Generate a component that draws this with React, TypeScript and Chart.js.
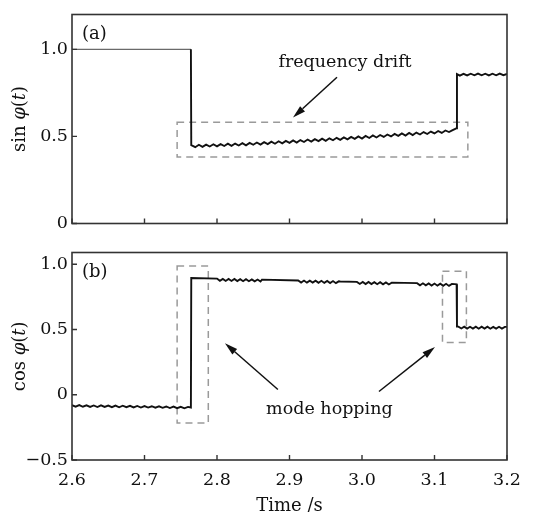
import { useEffect, useRef } from "react";
import { Chart, registerables } from "chart.js";

Chart.register(...registerables);

// ---------- axis ticks ----------
const xTicks = [2.6, 2.7, 2.8, 2.9, 3.0, 3.1, 3.2];
const xTickLabels = ["2.6", "2.7", "2.8", "2.9", "3.0", "3.1", "3.2"];
const sinTicks = [0, 0.5, 1.0];
const sinTickLabels = ["0", "0.5", "1.0"];
const cosTicks = [-0.5, 0, 0.5, 1.0];
const cosTickLabels = ["\u22120.5", "0", "0.5", "1.0"];

// ---------- series: sin φ(t) ----------
const sinTime = [
  2.600, 2.764,
  2.7645, 2.770, 2.775, 2.780, 2.785, 2.790, 2.795, 2.800, 2.805, 2.810,
  2.815, 2.820, 2.825, 2.830, 2.835, 2.840, 2.845, 2.850, 2.855, 2.860,
  2.865, 2.870, 2.875, 2.880, 2.885, 2.890, 2.895, 2.900, 2.905, 2.910,
  2.915, 2.920, 2.925, 2.930, 2.935, 2.940, 2.945, 2.950, 2.955, 2.960,
  2.965, 2.970, 2.975, 2.980, 2.985, 2.990, 2.995, 3.000, 3.005, 3.010,
  3.015, 3.020, 3.025, 3.030, 3.035, 3.040, 3.045, 3.050, 3.055, 3.060,
  3.065, 3.070, 3.075, 3.080, 3.085, 3.090, 3.095, 3.100, 3.105, 3.110,
  3.115, 3.120, 3.125, 3.128, 3.1305,
  3.131, 3.135, 3.140, 3.145, 3.150, 3.155, 3.160, 3.165, 3.170, 3.175,
  3.180, 3.185, 3.190, 3.195, 3.200,
];
const sinValue = [
  1.000, 1.000,
  0.450, 0.438, 0.452, 0.440, 0.453, 0.442, 0.455, 0.443, 0.456, 0.445,
  0.458, 0.446, 0.459, 0.448, 0.461, 0.449, 0.463, 0.452, 0.465, 0.453,
  0.467, 0.456, 0.470, 0.458, 0.472, 0.460, 0.474, 0.463, 0.477, 0.465,
  0.479, 0.468, 0.482, 0.470, 0.484, 0.473, 0.487, 0.475, 0.489, 0.478,
  0.492, 0.480, 0.494, 0.483, 0.497, 0.486, 0.500, 0.488, 0.503, 0.491,
  0.506, 0.494, 0.508, 0.497, 0.511, 0.500, 0.514, 0.503, 0.517, 0.505,
  0.520, 0.508, 0.522, 0.511, 0.525, 0.514, 0.528, 0.517, 0.531, 0.520,
  0.534, 0.525, 0.536, 0.542, 0.547,
  0.858, 0.849, 0.859, 0.850, 0.860, 0.851, 0.861, 0.851, 0.860, 0.850,
  0.860, 0.851, 0.861, 0.852, 0.859,
];

// ---------- series: cos φ(t) ----------
const cosTime = [
  2.600, 2.605, 2.610, 2.615, 2.620, 2.625, 2.630, 2.635, 2.640, 2.645,
  2.650, 2.655, 2.660, 2.665, 2.670, 2.675, 2.680, 2.685, 2.690, 2.695,
  2.700, 2.705, 2.710, 2.715, 2.720, 2.725, 2.730, 2.735, 2.740, 2.745,
  2.750, 2.755, 2.760, 2.764,
  2.7645, 2.800,
  2.804, 2.808, 2.812, 2.816, 2.820, 2.824, 2.828, 2.832, 2.836, 2.840,
  2.844, 2.848, 2.852, 2.856, 2.860, 2.862,
  2.912,
  2.916, 2.920, 2.924, 2.928, 2.932, 2.936, 2.940, 2.944, 2.948, 2.952,
  2.956, 2.960, 2.964, 2.968, 2.970,
  2.993,
  2.997, 3.001, 3.005, 3.009, 3.013, 3.017, 3.021, 3.025, 3.029, 3.033,
  3.037, 3.041,
  3.076,
  3.080, 3.084, 3.088, 3.092, 3.096, 3.100, 3.104, 3.108, 3.112, 3.116,
  3.120, 3.124, 3.128, 3.1305,
  3.131,
  3.133, 3.137, 3.141, 3.145, 3.149, 3.153, 3.157, 3.161, 3.165, 3.169,
  3.173, 3.177, 3.181, 3.185, 3.189, 3.193, 3.197, 3.200,
];
const cosValue = [
  -0.080, -0.091, -0.079, -0.092, -0.081, -0.093, -0.082, -0.094, -0.081, -0.093,
  -0.083, -0.095, -0.083, -0.096, -0.084, -0.095, -0.085, -0.097, -0.086, -0.098,
  -0.087, -0.098, -0.088, -0.099, -0.089, -0.100, -0.090, -0.102, -0.091, -0.103,
  -0.092, -0.104, -0.093, -0.098,
  0.895, 0.890,
  0.873, 0.888, 0.872, 0.887, 0.872, 0.887, 0.871, 0.886, 0.870, 0.885,
  0.870, 0.884, 0.869, 0.883, 0.868, 0.882,
  0.876,
  0.860, 0.875, 0.859, 0.874, 0.859, 0.874, 0.858, 0.873, 0.857, 0.872,
  0.856, 0.871, 0.855, 0.869, 0.868,
  0.865,
  0.849, 0.864, 0.848, 0.864, 0.848, 0.863, 0.847, 0.862, 0.846, 0.861,
  0.845, 0.859,
  0.855,
  0.839, 0.854, 0.838, 0.853, 0.837, 0.852, 0.836, 0.851, 0.835, 0.850,
  0.834, 0.849, 0.848, 0.846,
  0.522,
  0.522, 0.508, 0.522, 0.507, 0.521, 0.507, 0.521, 0.506, 0.521, 0.507,
  0.521, 0.506, 0.520, 0.507, 0.521, 0.507, 0.520, 0.520,
];

// ---------- annotations (data coordinates) ----------
const sinBoxes = [{ x0: 2.745, x1: 3.146, y0: 0.382, y1: 0.581 }];
const sinArrows = [{ x0: 2.9655, y0: 0.84, x1: 2.9048, y1: 0.608 }];
const sinNotes = [{ text: "frequency drift", x: 2.9766, y: 0.926 }];

const cosBoxes = [
  { x0: 2.745, x1: 2.788, y0: -0.217, y1: 0.986 },
  { x0: 3.111, x1: 3.144, y0: 0.4, y1: 0.947 },
];
const cosArrows = [
  { x0: 2.884, y0: 0.04, x1: 2.811, y1: 0.395 },
  { x0: 3.0234, y0: 0.025, x1: 3.1007, y1: 0.365 },
];
const cosNotes = [{ text: "mode hopping", x: 2.955, y: -0.11 }];

const FONT = "'DejaVu Serif', 'Liberation Serif', serif";
const INK = "#111";

type Part = { text: string; italic: boolean };

function drawYTitle(ctx: CanvasRenderingContext2D, parts: Part[], x: number, yc: number) {
  ctx.save();
  ctx.translate(x, yc);
  ctx.rotate(-Math.PI / 2);
  let total = 0;
  const widths = parts.map((p) => {
    ctx.font = `${p.italic ? "italic " : ""}18px ${FONT}`;
    const w = ctx.measureText(p.text).width;
    total += w;
    return w;
  });
  let cx = -total / 2;
  ctx.textBaseline = "middle";
  ctx.textAlign = "left";
  ctx.fillStyle = INK;
  parts.forEach((p, i) => {
    ctx.font = `${p.italic ? "italic " : ""}18px ${FONT}`;
    ctx.fillText(p.text, cx, 0);
    cx += widths[i];
  });
  ctx.restore();
}

function makePanelPlugin(cfg: {
  boxes: { x0: number; x1: number; y0: number; y1: number }[];
  arrows: { x0: number; y0: number; x1: number; y1: number }[];
  notes: { text: string; x: number; y: number }[];
  tag: string;
  title: Part[];
}) {
  return {
    id: "panelDecor",
    beforeDatasetsDraw(chart: any) {
      const { ctx, scales } = chart;
      const xs = scales.x;
      const ys = scales.y;
      ctx.save();
      ctx.strokeStyle = "#9a9a9a";
      ctx.lineWidth = 1.5;
      ctx.setLineDash([7, 5]);
      cfg.boxes.forEach((b) => {
        const l = xs.getPixelForValue(b.x0);
        const r = xs.getPixelForValue(b.x1);
        const t = ys.getPixelForValue(b.y1);
        const bt = ys.getPixelForValue(b.y0);
        ctx.strokeRect(l, t, r - l, bt - t);
      });
      ctx.restore();
    },
    afterDraw(chart: any) {
      const { ctx, scales, chartArea } = chart;
      const xs = scales.x;
      const ys = scales.y;
      ctx.save();
      // frame
      ctx.strokeStyle = "#333";
      ctx.lineWidth = 1.6;
      ctx.strokeRect(chartArea.left, chartArea.top, chartArea.right - chartArea.left, chartArea.bottom - chartArea.top);
      // inward ticks
      ctx.lineWidth = 1.4;
      ctx.beginPath();
      xTicks.forEach((v) => {
        const px = xs.getPixelForValue(v);
        ctx.moveTo(px, chartArea.bottom);
        ctx.lineTo(px, chartArea.bottom - 5);
      });
      ys.ticks.forEach((t: any) => {
        const py = ys.getPixelForValue(t.value);
        ctx.moveTo(chartArea.left, py);
        ctx.lineTo(chartArea.left + 5, py);
      });
      ctx.stroke();
      // arrows
      ctx.strokeStyle = "#111";
      ctx.fillStyle = "#111";
      ctx.lineWidth = 1.5;
      cfg.arrows.forEach((a) => {
        const x0 = xs.getPixelForValue(a.x0);
        const y0 = ys.getPixelForValue(a.y0);
        const x1 = xs.getPixelForValue(a.x1);
        const y1 = ys.getPixelForValue(a.y1);
        const ang = Math.atan2(y1 - y0, x1 - x0);
        const hl = 13;
        const hw = 3.6;
        const bx = x1 - hl * Math.cos(ang);
        const by = y1 - hl * Math.sin(ang);
        ctx.beginPath();
        ctx.moveTo(x0, y0);
        ctx.lineTo(bx, by);
        ctx.stroke();
        ctx.beginPath();
        ctx.moveTo(x1, y1);
        ctx.lineTo(bx + hw * Math.sin(ang), by - hw * Math.cos(ang));
        ctx.lineTo(bx - hw * Math.sin(ang), by + hw * Math.cos(ang));
        ctx.closePath();
        ctx.fill();
      });
      // notes
      ctx.fillStyle = INK;
      ctx.font = `17.5px ${FONT}`;
      ctx.textAlign = "center";
      ctx.textBaseline = "middle";
      cfg.notes.forEach((n) => {
        ctx.fillText(n.text, xs.getPixelForValue(n.x), ys.getPixelForValue(n.y));
      });
      // panel tag
      ctx.font = `18px ${FONT}`;
      ctx.textAlign = "left";
      ctx.fillText(cfg.tag, chartArea.left + 10, chartArea.top + 20);
      ctx.restore();
      // y title
      drawYTitle(ctx, cfg.title, 20, (chartArea.top + chartArea.bottom) / 2);
    },
  };
}

function labelFor(ticks: number[], labels: string[]) {
  return (value: any) => {
    const i = ticks.findIndex((t) => Math.abs(t - Number(value)) < 1e-9);
    return i >= 0 ? labels[i] : "";
  };
}

function buildConfig(opts: {
  time: number[];
  values: number[];
  yMin: number;
  yMax: number;
  yTicks: number[];
  yLabels: string[];
  showX: boolean;
  xHeight: number;
  dimFlat: boolean;
  plugin: any;
  xTitle: boolean;
}) {
  const data = opts.time.map((t, i) => ({ x: t, y: opts.values[i] }));
  const tickFont = { family: FONT, size: 17.5 };
  return {
    type: "scatter" as const,
    data: {
      datasets: [
        {
          data,
          showLine: true,
          borderColor: "#111",
          borderWidth: 1.9,
          pointRadius: 0,
          tension: 0,
          segment: opts.dimFlat
            ? {
                borderColor: (c: any) => (c.p0.parsed.y > 0.99 && c.p1.parsed.y > 0.99 ? "#6a6a6a" : "#111"),
                borderWidth: (c: any) => (c.p0.parsed.y > 0.99 && c.p1.parsed.y > 0.99 ? 1.1 : 1.9),
              }
            : undefined,
        },
      ],
    },
    options: {
      responsive: false,
      maintainAspectRatio: false,
      animation: false as const,
      layout: { padding: { top: 7, right: 29, bottom: 0, left: 0 } },
      plugins: {
        legend: { display: false },
        tooltip: { enabled: false },
      },
      scales: {
        x: {
          type: "linear" as const,
          min: 2.6,
          max: 3.2,
          grid: { display: false, drawTicks: false },
          border: { display: false },
          ticks: {
            display: opts.showX,
            font: tickFont,
            color: INK,
            padding: 10,
            maxRotation: 0,
            callback: labelFor(xTicks, xTickLabels),
          },
          afterBuildTicks: (s: any) => {
            s.ticks = xTicks.map((v) => ({ value: v }));
          },
          afterFit: (s: any) => {
            s.height = opts.xHeight;
          },
        },
        y: {
          type: "linear" as const,
          min: opts.yMin,
          max: opts.yMax,
          grid: { display: false, drawTicks: false },
          border: { display: false },
          ticks: {
            font: tickFont,
            color: INK,
            padding: 4,
            callback: labelFor(opts.yTicks, opts.yLabels),
          },
          afterBuildTicks: (s: any) => {
            s.ticks = opts.yTicks.map((v) => ({ value: v }));
          },
          afterFit: (s: any) => {
            s.width = 72;
          },
        },
      },
    },
    plugins: [
      opts.plugin,
      ...(opts.xTitle
        ? [
            {
              id: "xTitle",
              afterDraw(chart: any) {
                const { ctx, chartArea } = chart;
                ctx.save();
                ctx.fillStyle = INK;
                ctx.font = `18px ${FONT}`;
                ctx.textAlign = "center";
                ctx.textBaseline = "middle";
                ctx.fillText("Time /s", (chartArea.left + chartArea.right) / 2, chartArea.bottom + 46);
                ctx.restore();
              },
            },
          ]
        : []),
    ],
  };
}

export default function App() {
  const topRef = useRef<HTMLCanvasElement | null>(null);
  const botRef = useRef<HTMLCanvasElement | null>(null);

  useEffect(() => {
    if (!topRef.current || !botRef.current) return;
    const top = new Chart(
      topRef.current,
      buildConfig({
        time: sinTime,
        values: sinValue,
        yMin: 0,
        yMax: 1.2,
        yTicks: sinTicks,
        yLabels: sinTickLabels,
        showX: false,
        xHeight: 8,
        dimFlat: true,
        xTitle: false,
        plugin: makePanelPlugin({
          boxes: sinBoxes,
          arrows: sinArrows,
          notes: sinNotes,
          tag: "(a)",
          title: [
            { text: "sin ", italic: false },
            { text: "\u03C6", italic: true },
            { text: "(", italic: false },
            { text: "t", italic: true },
            { text: ")", italic: false },
          ],
        }),
      }) as any
    );
    const bot = new Chart(
      botRef.current,
      buildConfig({
        time: cosTime,
        values: cosValue,
        yMin: -0.5,
        yMax: 1.09,
        yTicks: cosTicks,
        yLabels: cosTickLabels,
        showX: true,
        xHeight: 52,
        dimFlat: false,
        xTitle: true,
        plugin: makePanelPlugin({
          boxes: cosBoxes,
          arrows: cosArrows,
          notes: cosNotes,
          tag: "(b)",
          title: [
            { text: "cos ", italic: false },
            { text: "\u03C6", italic: true },
            { text: "(", italic: false },
            { text: "t", italic: true },
            { text: ")", italic: false },
          ],
        }),
      }) as any
    );
    return () => {
      top.destroy();
      bot.destroy();
    };
  }, []);

  return (
    <div style={{ position: "absolute", left: 0, top: 0, width: 536, height: 512, background: "#fff", overflow: "hidden" }}>
      <canvas ref={topRef} width={536} height={238} style={{ position: "absolute", left: 0, top: 0, width: 536, height: 238 }} />
      <canvas ref={botRef} width={536} height={274} style={{ position: "absolute", left: 0, top: 238, width: 536, height: 274 }} />
    </div>
  );
}
